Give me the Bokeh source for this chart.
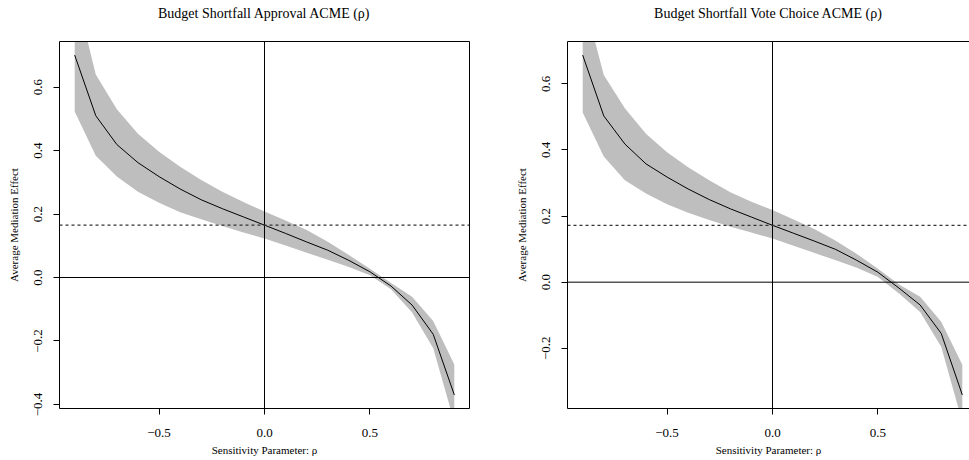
from bokeh.plotting import figure
from bokeh.models import Span, Title, FixedTicker, LinearAxis, Range1d
from bokeh.layouts import row
from bokeh.embed import file_html
from bokeh.resources import INLINE

# Sensitivity parameter grid
rho = [-0.9, -0.8, -0.7, -0.6, -0.5, -0.4, -0.3, -0.2, -0.1, 0.0,
       0.1, 0.2, 0.3, 0.4, 0.5, 0.6, 0.7, 0.8, 0.9]

# Budget shortfall -> approval: ACME(rho) with 95% band
approval_est = [0.701, 0.510, 0.419, 0.362, 0.318, 0.279, 0.245, 0.217, 0.191, 0.165,
                0.139, 0.112, 0.086, 0.054, 0.018, -0.027, -0.087, -0.179, -0.370]
approval_lower = [0.523, 0.384, 0.318, 0.270, 0.236, 0.206, 0.184, 0.162, 0.142, 0.123,
                  0.101, 0.078, 0.056, 0.033, 0.007, -0.037, -0.110, -0.223, -0.456]
approval_upper = [0.910, 0.640, 0.530, 0.453, 0.396, 0.349, 0.307, 0.270, 0.238, 0.208,
                  0.180, 0.150, 0.113, 0.071, 0.028, -0.017, -0.061, -0.137, -0.274]
approval_acme = 0.165

# Budget shortfall -> vote choice: ACME(rho) with 95% band
vote_est = [0.687, 0.503, 0.418, 0.358, 0.318, 0.282, 0.250, 0.222, 0.197, 0.172,
            0.148, 0.124, 0.099, 0.066, 0.030, -0.018, -0.069, -0.155, -0.341]
vote_lower = [0.513, 0.380, 0.308, 0.268, 0.236, 0.210, 0.188, 0.168, 0.150, 0.132,
              0.110, 0.088, 0.066, 0.044, 0.016, -0.034, -0.090, -0.195, -0.423]
vote_upper = [0.870, 0.627, 0.526, 0.449, 0.393, 0.348, 0.308, 0.272, 0.243, 0.218,
              0.190, 0.160, 0.125, 0.085, 0.041, -0.007, -0.044, -0.120, -0.250]
vote_acme = 0.172

x_ticks = [-0.5, 0.0, 0.5]
x_tick_labels = ["\u22120.5", "0.0", "0.5"]
approval_y_ticks = [-0.4, -0.2, 0.0, 0.2, 0.4, 0.6]
approval_y_tick_labels = ["\u22120.4", "\u22120.2", "0.0", "0.2", "0.4", "0.6"]
vote_y_ticks = [-0.2, 0.0, 0.2, 0.4, 0.6]
vote_y_tick_labels = ["\u22120.2", "0.0", "0.2", "0.4", "0.6"]

FONT = "Liberation Serif"
BAND = "#BEBEBE"
HEIGHT = 460
FRAME_TOP = 41
FRAME_BOTTOM = 52
FRAME_W = 410  # full frame width of a panel in px


def padded(vals, frac=0.04):
    lo, hi = min(vals), max(vals)
    pad = (hi - lo) * frac
    return lo - pad, hi + pad


def panel(title, est, lower, upper, acme, y_ticks, y_labels,
          width, border_left, border_right, visible_w, right_border):
    x0, x1 = padded(rho)
    x1 = x0 + (x1 - x0) * visible_w / FRAME_W
    y0, y1 = padded(est)

    p = figure(width=width, height=HEIGHT, output_backend="svg", toolbar_location=None,
               x_range=Range1d(x0, x1), y_range=Range1d(y0, y1),
               min_border_left=border_left, min_border_right=border_right,
               min_border_top=FRAME_TOP, min_border_bottom=FRAME_BOTTOM)
    p.grid.visible = False
    p.background_fill_color = "white"
    p.border_fill_color = "white"
    p.outline_line_color = None

    p.varea(x=rho, y1=lower, y2=upper, fill_color=BAND, fill_alpha=1.0)
    p.line(x=rho, y=est, line_color="black", line_width=1)

    p.add_layout(Span(location=0, dimension="width", line_color="black", line_width=1))
    p.add_layout(Span(location=0, dimension="height", line_color="black", line_width=1))
    p.add_layout(Span(location=acme, dimension="width", line_color="#333333",
                      line_width=1.2, line_dash="3 3"))

    xa = p.xaxis[0]
    xa.ticker = FixedTicker(ticks=x_ticks)
    xa.major_label_overrides = dict(zip(x_ticks, x_tick_labels))
    xa.axis_label = "Sensitivity Parameter: \u03c1"

    ya = p.yaxis[0]
    ya.ticker = FixedTicker(ticks=y_ticks)
    ya.major_label_overrides = dict(zip(y_ticks, y_labels))
    ya.major_label_orientation = "vertical"
    ya.axis_label = "Average Mediation Effect"

    for ax in (xa, ya):
        ax.axis_line_color = "black"
        ax.major_tick_line_color = "black"
        ax.major_tick_out = 6
        ax.major_tick_in = 0
        ax.minor_tick_out = 0
        ax.minor_tick_in = 0
        ax.major_label_text_font = FONT
        ax.major_label_text_font_size = "13px"
        ax.major_label_text_color = "black"
        ax.axis_label_text_font = FONT
        ax.axis_label_text_font_size = "11px"
        ax.axis_label_text_font_style = "normal"
        ax.axis_label_text_color = "black"
    xa.major_label_standoff = 14
    xa.axis_label_standoff = 4
    ya.major_label_standoff = 11
    ya.axis_label_standoff = 12

    # top edge of the box; its hidden tick reserves the gap below the title
    top_edge = LinearAxis(ticker=FixedTicker(ticks=[0.0]), axis_line_color="black",
                          major_tick_out=15, major_tick_in=0, major_tick_line_color=None,
                          minor_tick_out=0, minor_tick_in=0, major_label_standoff=0,
                          major_label_overrides={0.0: ""},
                          major_label_text_font_size="0px")
    p.add_layout(top_edge, "above")
    # right edge of the box, only where it falls inside the page
    if right_border:
        right_edge = LinearAxis(ticker=FixedTicker(ticks=[]), axis_line_color="black",
                                major_tick_out=0, minor_tick_out=0, major_label_standoff=0,
                                major_label_text_font_size="0px")
        p.add_layout(right_edge, "right")

    p.add_layout(Title(text=title, align="center", vertical_align="top",
                       text_font=FONT, text_font_size="14px", text_font_style="normal",
                       text_color="black", standoff=8), "above")
    return p


left = panel("Budget Shortfall Approval ACME (\u03c1)", approval_est, approval_lower,
             approval_upper, approval_acme, approval_y_ticks, approval_y_tick_labels,
             width=484, border_left=59, border_right=15, visible_w=410, right_border=True)
right = panel("Budget Shortfall Vote Choice ACME (\u03c1)", vote_est, vote_lower,
              vote_upper, vote_acme, vote_y_ticks, vote_y_tick_labels,
              width=485, border_left=83, border_right=0, visible_w=402, right_border=False)

layout = row(left, right)
open("out.html", "w").write(file_html(layout, INLINE))
